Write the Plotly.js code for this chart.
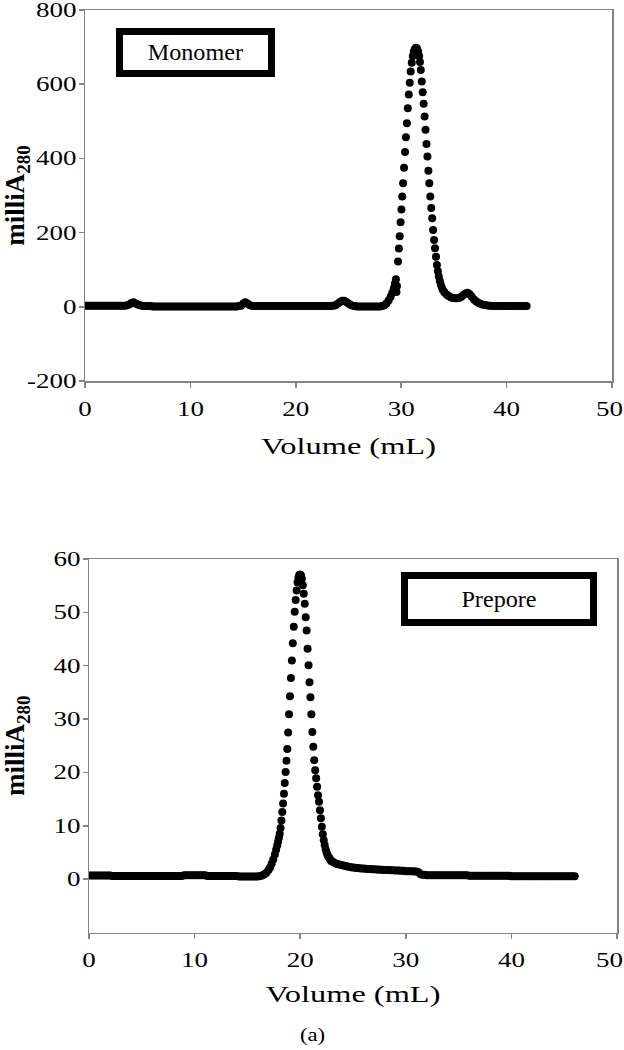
<!DOCTYPE html>
<html><head><meta charset="utf-8">
<script src="https://cdn.plot.ly/plotly-3.0.1.min.js"></script>
<style>html,body{margin:0;padding:0;background:#fff}#chart{width:624px;height:1050px}</style>
</head><body><div id="chart"></div>
<script>
// ---------- Monomer (top panel) ----------
const monomerVolume = [
0,0.2,0.4,0.6,0.8,1,1.2,1.4,1.6,1.8,2,2.2,2.4,2.6,2.8,3,3.2,3.4,3.6,3.8,4,4.2,
4.4,4.6,4.8,5,5.2,5.4,5.6,5.8,
6,6.2,6.4,6.6,6.8,7,7.2,7.4,7.6,7.8,8,8.2,8.4,8.6,8.8,9,9.2,9.4,9.6,9.8,10,10.2,10.4,10.6,10.8,11,11.2,11.4,11.6,11.8,12,12.2,12.4,12.6,12.8,13,13.2,13.4,13.6,13.8,14,14.2,14.4,14.6,14.8,
15,15.2,15.4,15.6,15.8,16,
16.2,16.4,16.6,16.8,17,17.2,17.4,17.6,17.8,18,18.2,18.4,18.6,18.8,19,19.2,19.4,19.6,19.8,20,20.2,20.4,20.6,20.8,21,21.2,21.4,21.6,21.8,22,22.2,22.4,22.6,22.8,23,23.2,23.4,23.6,
23.8,24,24.2,24.4,24.6,24.8,25,25.2,25.4,25.6,
25.8,26,26.2,26.4,26.6,26.8,27,27.2,27.4,27.6,27.8,28,28.2,
28.4,28.6,28.8,29,29.15,29.3,29.4,29.5,29.55,29.6,
29.7,29.78,29.86,29.94,30.02,30.1,30.18,30.27,30.36,30.45,30.54,30.63,30.72,30.81,30.9,31,31.1,31.2,31.3,31.4,31.5,31.6,31.7,31.78,
31.86,31.95,32.04,32.13,32.22,32.31,32.4,32.49,32.58,32.67,32.76,32.85,32.94,33.03,33.12,33.21,33.3,33.39,33.48,33.57,33.66,33.75,33.85,33.95,
34.1,34.3,34.5,34.7,34.9,35.1,35.3,35.5,35.7,35.9,36.1,36.3,36.5,36.7,36.9,37.1,37.3,37.5,37.7,37.9,38.1,38.3,38.5,38.7,
38.9,39.1,39.3,39.5,39.7,39.9,40.1,40.3,40.5,40.7,40.9,41.1,41.3,41.5,41.7,41.9
];
const monomerA280 = [
3,3,3,3,3,3,3,3,3,3,3,3,3,3,3,3,3,3,3,3,4,6,
10,12,9,6,4,3,2,2,
2,2,1,1,1,1,1,1,1,1,1,1,1,1,1,1,1,1,1,1,1,1,1,1,1,1,1,1,1,1,1,1,1,1,1,1,1,1,1,1,1,1,1,2,3,
8,12,9,5,3,2,
2,2,2,2,2,2,2,2,2,2,2,2,2,2,2,2,2,2,2,2,2,2,2,2,2,2,2,2,2,2,2,2,2,2,2,2,3,3,
5,9,13,16,16,13,9,5,3,2,
1,1,1,1,1,1,1,1,1,1,1,1,2,
4,9,17,27,38,50,62,74,40,56,
122,157,190,228,262,297,333,375,417,457,495,535,572,604,634,658,676,688,695,698,696,688,676,660,
638,607,578,547,513,477,439,405,367,333,297,266,239,207,180,158,135,113,96,82,70,60,52,45,
39,33,29,26,24,23,23,24,27,32,36,38,34,27,20,15,11,8,6,5,4,3,3,2,
2,2,2,2,2,2,2,2,2,2,2,2,2,2,2,2
];

// ---------- Prepore (bottom panel) ----------
const preporeVolume = [
0,0.2,0.4,0.6,0.8,1,1.2,1.4,1.6,1.8,2,
2.2,2.4,2.6,2.8,3,3.2,3.4,3.6,3.8,4,4.2,4.4,4.6,4.8,5,5.2,5.4,5.6,5.8,6,6.2,6.4,6.6,6.8,7,7.2,7.4,7.6,7.8,8,8.2,8.4,8.6,8.8,
9,9.2,9.4,9.6,9.8,10,10.2,10.4,10.6,10.8,11,
11.2,11.4,11.6,11.8,12,12.2,12.4,12.6,12.8,13,13.2,13.4,13.6,13.8,14,
14.2,14.4,14.6,14.8,15,15.2,15.4,15.6,15.8,16,
16.2,16.4,16.6,16.8,17,17.15,17.3,17.45,17.6,17.72,17.82,17.9,17.98,18.06,
18.14,18.22,18.3,18.38,18.46,18.54,18.62,18.7,18.78,18.86,18.94,
19.03,19.12,19.21,19.3,19.39,19.48,19.57,19.66,19.75,19.83,19.91,20,20.08,20.16,20.25,
20.34,20.43,20.52,20.61,20.7,20.79,20.88,20.97,21.06,21.15,21.24,21.33,21.42,21.51,21.6,21.69,21.78,21.87,21.96,
22.05,22.14,22.23,22.32,22.41,22.5,22.6,22.7,22.8,22.9,23,
23.2,23.4,23.6,23.8,24,24.2,24.4,24.6,24.8,25,25.2,25.4,25.6,25.8,26,26.2,26.4,26.6,26.8,27,27.2,27.4,27.6,27.8,28,28.2,28.4,28.6,28.8,29,29.2,29.4,29.6,29.8,30,30.2,30.4,30.6,30.8,31,31.2,
31.4,31.6,31.8,
32,32.2,32.4,32.6,32.8,33,33.2,33.4,33.6,33.8,34,34.2,34.4,34.6,34.8,35,35.2,35.4,35.6,35.8,
36,36.2,36.4,36.6,36.8,37,37.2,37.4,37.6,37.8,38,38.2,38.4,38.6,38.8,39,39.2,39.4,39.6,39.8,
40,40.2,40.4,40.6,40.8,41,41.2,41.4,41.6,41.8,42,42.2,42.4,42.6,42.8,43,43.2,43.4,43.6,43.8,44,44.2,44.4,44.6,44.8,45,45.2,45.4,45.6,45.8,46
];
const preporeA280 = [
0.7,0.7,0.7,0.7,0.7,0.7,0.7,0.7,0.7,0.7,0.7,
0.6,0.6,0.6,0.6,0.6,0.6,0.6,0.6,0.6,0.6,0.6,0.6,0.6,0.6,0.6,0.6,0.6,0.6,0.6,0.6,0.6,0.6,0.6,0.6,0.6,0.6,0.6,0.6,0.6,0.6,0.6,0.6,0.6,0.6,
0.75,0.75,0.75,0.75,0.75,0.75,0.75,0.75,0.75,0.75,0.75,
0.6,0.6,0.6,0.6,0.6,0.6,0.6,0.6,0.6,0.6,0.6,0.6,0.6,0.6,0.6,
0.5,0.5,0.5,0.5,0.5,0.5,0.5,0.5,0.5,0.5,
0.6,0.7,0.9,1.2,1.7,2.2,2.9,3.7,4.6,5.5,6.3,7.0,7.7,8.5,
9.6,11.0,12.6,14.2,16.0,18.0,20.1,22.2,24.4,27.5,30.9,
34.3,37.7,41.0,44.2,47.3,50.1,52.3,54.1,55.6,56.5,57.0,57.1,56.9,56.3,55.1,
53.5,51.6,49.1,46.6,43.2,40.1,36.9,34.1,30.9,27.6,24.8,22.3,20.4,18.9,17.3,15.7,14.5,12.9,11.4,
9.8,8.4,7.3,6.4,5.6,5.0,4.5,4.1,3.8,3.5,3.3,
3.1,2.9,2.8,2.7,2.6,2.5,2.4,2.3,2.25,2.2,2.15,2.1,2.05,2.0,2.0,1.95,1.9,1.9,1.85,1.85,1.8,1.8,1.75,1.75,1.7,1.7,1.7,1.65,1.65,1.6,1.6,1.6,1.55,1.55,1.5,1.5,1.5,1.5,1.45,1.45,1.3,
0.9,0.8,0.8,
0.75,0.75,0.75,0.75,0.75,0.75,0.75,0.75,0.75,0.75,0.75,0.75,0.75,0.75,0.75,0.75,0.75,0.75,0.75,0.75,
0.65,0.65,0.65,0.65,0.65,0.65,0.65,0.65,0.65,0.65,0.65,0.65,0.65,0.65,0.65,0.65,0.65,0.65,0.65,0.65,
0.55,0.55,0.55,0.55,0.55,0.55,0.55,0.55,0.55,0.55,0.55,0.55,0.55,0.55,0.55,0.55,0.55,0.55,0.55,0.55,0.55,0.55,0.55,0.55,0.55,0.55,0.55,0.55,0.55,0.55,0.55
];

// ---------- axes / labels ----------
const volumeTicks = [0,10,20,30,40,50];
const volumeTickText = ['0','10','20','30','40','50'];
const monomerTicks = [-200,0,200,400,600,800];
const monomerTickText = ['-200','0','200','400','600','800'];
const preporeTicks = [0,10,20,30,40,50,60];
const preporeTickText = ['0','10','20','30','40','50','60'];
const xTitle = 'Volume (mL)';
const yTitle = '<b>milliA<sub>280</sub></b>';
const panelLabels = ['Monomer','Prepore'];
const caption = '(a)';

const W = 624, H = 1050;
const serif = 'Liberation Serif, Times New Roman, serif';
const axisColor = '#858585';
const tickFont = {family: serif, size: 20, color: '#000'};

function xAxis(domain, anchor, standoff){
  return {domain: domain, anchor: anchor, range:[0,50], tickvals: volumeTicks, ticktext: volumeTickText,
    ticks:'outside', ticklen:5, tickwidth:1.5, tickcolor:axisColor, showline:true, linecolor:axisColor,
    linewidth:1.5, mirror:true, showgrid:false, zeroline:false, tickfont: tickFont, ticklabelstandoff: 4,
    ticklabeloverflow:'allow', fixedrange:true, automargin:'height',
    title:{text: xTitle, standoff: standoff, font:{family: serif, size: 24, color:'#000'}}};
}
function yAxis(domain, anchor, range, ticks, text, standoff){
  return {domain: domain, anchor: anchor, range: range, tickvals: ticks, ticktext: text,
    ticks:'outside', ticklen:5, tickwidth:1.5, tickcolor:axisColor, showline:true, linecolor:axisColor,
    linewidth:1.5, mirror:true, showgrid:false, zeroline:false, tickfont: tickFont, ticklabelstandoff: -2,
    ticklabeloverflow:'allow', fixedrange:true, automargin:'width',
    title:{text: yTitle, standoff: standoff, font:{family: serif, size: 27, color:'#000'}}};
}
const px = v => v / W, py = v => 1 - v / H;

const marker = {size: 8, color: '#000'};
const data = [
  {x: monomerVolume, y: monomerA280, xaxis:'x', yaxis:'y', type:'scatter', mode:'markers', marker: marker, hoverinfo:'skip'},
  {x: preporeVolume, y: preporeA280, xaxis:'x2', yaxis:'y2', type:'scatter', mode:'markers', marker: marker, hoverinfo:'skip'}
];

const boxAnn = (text, cx, cy, w, h) => ({text: text, xref:'paper', yref:'paper', x: px(cx), y: py(cy),
  xanchor:'center', yanchor:'middle', showarrow:false, width: w, height: h, borderwidth: 7, borderpad: 0,
  bordercolor:'#000', bgcolor:'#fff', font:{family: serif, size: 23, color:'#000'}});

const layout = {
  width: W, height: H, margin:{l:0, r:0, t:0, b:0}, paper_bgcolor:'#fff', plot_bgcolor:'#fff', showlegend:false,
  xaxis: xAxis([px(85), px(612)], 'y', 18),
  yaxis: yAxis([py(381), py(10)], 'x', [-200, 800], monomerTicks, monomerTickText, 20),
  xaxis2: xAxis([px(89), px(617)], 'y2', 15),
  yaxis2: yAxis([py(932.5), py(559)], 'x2', [-10, 60], preporeTicks, preporeTickText, 36),
  annotations: [
    boxAnn(panelLabels[0], 195.5, 52.5, 145, 35),
    boxAnn(panelLabels[1], 499, 599, 182, 40),
    {text: caption, xref:'paper', yref:'paper', x: px(312), y: py(1035), xanchor:'center', yanchor:'middle', showarrow:false, font:{family: serif, size: 19, color:'#000'}}
  ]
};

// the reference figure is horizontally widened; widen horizontal texts to match
function widen(nodes, k){
  nodes.forEach(t => {
    const w = t.getComputedTextLength();
    if (w > 0) { t.setAttribute('textLength', (w * k).toFixed(1)); t.setAttribute('lengthAdjust', 'spacingAndGlyphs'); }
  });
}
Plotly.newPlot('chart', data, layout, {staticPlot:true, displayModeBar:false}).then(gd => {
  widen(gd.querySelectorAll('.xtick text, .x2tick text, .ytick text, .y2tick text'), 1.35);
  widen(gd.querySelectorAll('text.xtitle, text.x2title'), 1.35);
  const ann = Array.from(gd.querySelectorAll('text.annotation-text'));
  widen(ann.filter(t => panelLabels.includes(t.textContent)), 1.05);
  widen(ann.filter(t => t.textContent === caption), 1.2);
  // keep the last x tick label inside the page, as in the reference
  gd.querySelectorAll('.xtick text, .x2tick text').forEach(t => {
    const r = t.getBoundingClientRect();
    if (r.right > W - 1) t.setAttribute('x', (parseFloat(t.getAttribute('x') || 0) - (r.right - (W - 1))).toFixed(1));
  });
  // drop empty placeholder text nodes left by the library (e.g. unused titles)
  gd.querySelectorAll('text').forEach(t => { if (!t.textContent.trim()) t.remove(); });
});
</script>
</body></html>
